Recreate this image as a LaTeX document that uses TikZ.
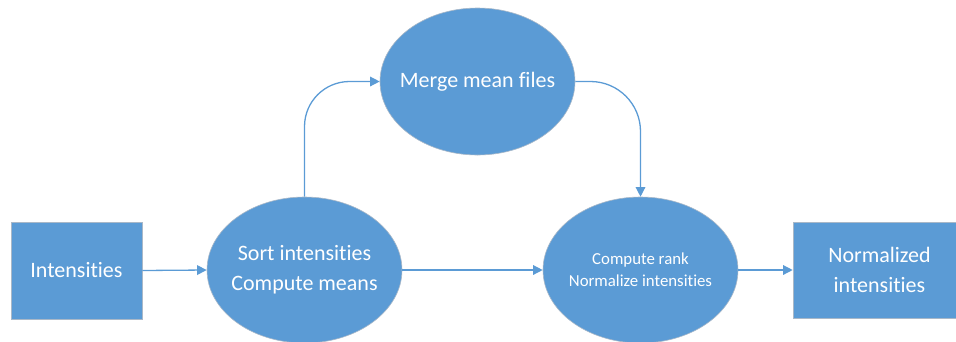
\documentclass[tikz,border=0pt]{standalone}
\usepackage{fontspec}
\setmainfont{Carlito}[RawFeature={-liga;-clig;-calt;-dlig}]
\usetikzlibrary{shapes.geometric,arrows.meta}
\definecolor{procblue}{HTML}{5B9BD5}
\definecolor{edgegray}{HTML}{A9B8C8}
\tikzset{
  boxnode/.style={rectangle, fill=procblue, draw=edgegray, line width=0.6pt,
    inner sep=0pt},
  % the ellipse size is fixed; its text sits in a centred label
  procnode/.style={ellipse, fill=procblue, draw=edgegray, line width=0.6pt,
    inner sep=0pt, minimum width=195pt, minimum height=146pt},
  proclabel/.style={text=white, align=center, inner sep=0pt},
  flow/.style={draw=procblue, line width=1.3pt,
    -{Triangle[length=9.5pt,width=9.5pt]}},
  bigtext/.style={font=\fontsize{22}{30}\selectfont},
  smalltext/.style={font=\fontsize{16.8}{22}\selectfont}
}
\begin{document}
\begin{tikzpicture}[x=1pt,y=-1pt]
  \useasboundingbox (0,0) rectangle (956,341);

  % input and output boxes
  \node[boxnode, minimum width=131pt, minimum height=97pt,
    label={[proclabel, bigtext]center:Intensities}]
    (inten) at (76.5,270.5) {};
  \node[boxnode, minimum width=163pt, minimum height=96pt,
    label={[proclabel, bigtext, xshift=5pt]center:Normalized\\intensities}]
    (normn) at (874.5,270) {};

  % processing steps
  \node[procnode, label={[proclabel, bigtext]center:Sort intensities\\Compute means}]
    (sortn) at (304.5,270) {};
  \node[procnode, minimum height=147pt, label={[proclabel, bigtext]center:Merge mean files}]
    (merge) at (477.5,81.5) {};
  \node[procnode, label={[proclabel, smalltext]center:Compute rank\\Normalize intensities}]
    (rankn) at (640.5,270) {};

  % connectors
  \draw[flow] (inten.east) -- (sortn.west);
  \draw[flow] (sortn.east) -- (rankn.west);
  \draw[flow] (rankn.east) -- (normn.west);
  \draw[flow, rounded corners=45pt] (sortn.north) |- (merge.west);
  \draw[flow, rounded corners=50pt] (merge.east) -| (rankn.north);
\end{tikzpicture}
\end{document}
